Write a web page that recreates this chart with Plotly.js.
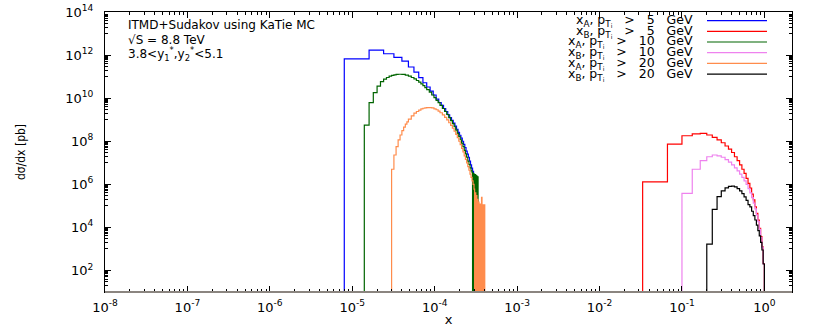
<!DOCTYPE html>
<html>
<head>
<meta charset="utf-8">
<script src="https://cdn.plot.ly/plotly-3.0.1.min.js"></script>
<style>html,body{margin:0;padding:0;background:#fff;}#chart{width:830px;height:327px;}</style>
</head>
<body>
<div id="chart"></div>
<script>
// ---------------- DATA ----------------
// x_A, pT_i > 5 GeV : linear bins of width 8e-6 starting at 8e-6
const xA5_binStart = 8e-6, xA5_binWidth = 8e-6;
const xA5_vals = [6.6e11, 1.7e12, 1.15e12, 7.9e11, 5.2e11, 2.8e11, 1.6e11, 8.9e10, 5.2e10, 3.3e10,
  2.1e10, 1.4e10, 9.1e9, 6.3e9, 4.6e9, 3.3e9, 2.4e9, 1.7e9, 1.26e9, 9.3e8,
  6.9e8, 5.0e8, 3.6e8, 2.6e8, 1.9e8, 1.4e8, 1.0e8, 7.1e7, 5.0e7, 3.5e7,
  2.5e7, 1.8e7, 1.2e7, 7.9e6, 5.6e6, 4.0e6, 2.8e6, 2.0e6, 1.6e6];

// x_A, pT_i > 10 GeV : bin edges and contents
const xA10_edges = [1.4e-5, 1.6e-5, 1.8e-5, 2.0e-5, 2.2e-5, 2.4e-5, 2.6e-5, 2.8e-5, 3.0e-5, 3.2e-5,
  3.4e-5, 3.6e-5, 3.8e-5, 4.0e-5, 4.4e-5, 4.8e-5, 5.2e-5, 5.6e-5, 6.0e-5, 6.4e-5,
  6.8e-5, 7.2e-5, 7.6e-5, 8.0e-5, 8.6e-5, 9.2e-5, 9.8e-5, 1.04e-4, 1.10e-4, 1.16e-4,
  1.24e-4, 1.32e-4, 1.40e-4, 1.48e-4, 1.56e-4, 1.64e-4, 1.72e-4, 1.80e-4, 1.88e-4, 1.96e-4,
  2.04e-4, 2.12e-4, 2.20e-4, 2.28e-4, 2.36e-4, 2.44e-4, 2.52e-4, 2.60e-4, 2.68e-4, 2.76e-4,
  2.84e-4, 2.88e-4, 2.92e-4, 2.96e-4, 3.00e-4, 3.04e-4, 3.08e-4, 3.12e-4, 3.16e-4, 3.20e-4,
  3.24e-4, 3.28e-4, 3.32e-4, 3.36e-4, 3.40e-4];
const xA10_vals = [5.6e8, 6.2e9, 1.8e10, 3.6e10, 5.8e10, 7.6e10, 9.1e10, 1.05e11, 1.15e11, 1.2e11,
  1.26e11, 1.29e11, 1.29e11, 1.26e11, 1.17e11, 1.05e11, 9.1e10, 7.9e10, 6.6e10, 5.5e10,
  4.6e10, 3.8e10, 3.1e10, 2.5e10, 1.9e10, 1.4e10, 1.05e10, 7.9e9, 6.2e9, 4.6e9,
  3.3e9, 2.4e9, 1.74e9, 1.26e9, 9.1e8, 6.6e8, 4.7e8, 3.3e8, 2.3e8, 1.66e8,
  1.17e8, 8.1e7, 5.6e7, 3.8e7, 2.6e7, 1.8e7, 1.2e7, 8.3e6, 5.8e6, 4.2e6,
  3.5e6, 0, 3.2e6, 0, 3.0e6, 0, 2.8e6, 0, 2.6e6, 0, 2.4e6, 0, 2.2e6, 0];

// x_A, pT_i > 20 GeV
const xA20_edges = [3.0e-5, 3.2e-5, 3.4e-5, 3.6e-5, 3.8e-5, 4.0e-5, 4.2e-5, 4.4e-5, 4.6e-5, 4.8e-5,
  5.2e-5, 5.6e-5, 6.0e-5, 6.4e-5, 6.8e-5, 7.2e-5, 7.6e-5, 8.0e-5, 8.6e-5, 9.2e-5,
  9.8e-5, 1.04e-4, 1.10e-4, 1.16e-4, 1.24e-4, 1.32e-4, 1.40e-4, 1.48e-4, 1.56e-4, 1.64e-4,
  1.72e-4, 1.80e-4, 1.88e-4, 1.96e-4, 2.04e-4, 2.12e-4, 2.20e-4, 2.28e-4, 2.36e-4, 2.44e-4,
  2.52e-4, 2.60e-4, 2.68e-4, 2.76e-4, 2.84e-4, 2.92e-4, 3.00e-4, 3.05e-4, 3.10e-4, 3.15e-4,
  3.20e-4, 3.25e-4, 3.30e-4, 3.35e-4, 3.40e-4, 3.45e-4, 3.50e-4, 3.55e-4, 3.60e-4, 3.65e-4,
  3.70e-4, 3.75e-4, 3.80e-4, 3.85e-4, 3.90e-4, 3.95e-4, 4.00e-4, 4.05e-4, 4.10e-4];
const xA20_vals = [5.0e6, 2.3e7, 5.6e7, 1.15e8, 1.95e8, 3.1e8, 4.5e8, 6.2e8, 7.9e8, 1.07e9,
  1.5e9, 2.0e9, 2.4e9, 2.8e9, 3.2e9, 3.4e9, 3.55e9, 3.6e9, 3.6e9, 3.5e9,
  3.2e9, 2.9e9, 2.5e9, 2.1e9, 1.66e9, 1.29e9, 9.8e8, 7.2e8, 5.4e8, 4.0e8,
  2.9e8, 2.1e8, 1.45e8, 1.0e8, 6.9e7, 4.7e7, 3.2e7, 2.1e7, 1.45e7, 9.8e6,
  6.6e6, 4.5e6, 3.0e6, 2.1e6, 1.45e6, 1.0e6, 6e5, 0, 4e5, 0,
  3e5, 0, 2e5, 0, 1.5e5, 0, 1.2e5, 0, 1.2e5, 0,
  2.5e5, 0, 1.1e5, 0, 1.1e5, 0, 1.1e5, 0];

// x_B histograms : linear bins of width 1/30, first filled bin index given
const xB_binWidth = 1 / 30;
const xB5_firstBin = 1;
const xB5_vals = [1.3e6, 7.4e7, 1.8e8, 2.2e8, 2.3e8, 1.95e8, 1.5e8, 1.15e8, 8.5e7, 6.0e7,
  4.3e7, 3.0e7, 1.9e7, 1.26e7, 7.9e6, 5.0e6, 3.2e6, 1.9e6, 1.1e6, 6.6e5,
  3.5e5, 1.9e5, 9.1e4, 4.5e4, 2.2e4, 9.1e3, 3.7e3, 1.26e3, 2.1e2];
const xB10_firstBin = 3;
const xB10_vals = [3.8e5, 5.0e6, 1.26e7, 1.9e7, 2.3e7, 2.1e7, 1.8e7, 1.4e7, 1.07e7, 7.9e6,
  5.8e6, 4.2e6, 3.0e6, 2.1e6, 1.45e6, 9.8e5, 6.3e5, 4.0e5, 2.4e5, 1.35e5,
  7.2e4, 3.7e4, 1.86e4, 8.1e3, 3.4e3, 1.17e3, 2.0e2];
const xB20_firstBin = 6;
const xB20_vals = [1.66e3, 6.9e4, 2.7e5, 5.0e5, 6.9e5, 8.1e5, 8.3e5, 7.6e5, 6.3e5, 5.0e5,
  3.7e5, 2.6e5, 1.8e5, 1.15e5, 8.9e4, 5.6e4, 3.5e4, 2.2e4, 1.26e4, 7.1e3,
  4.0e3, 2.0e3, 8.9e2, 2.0e2];

const NB = "\u00A0";
const sp = n => NB.repeat(n);
const seriesNames = [
  "x<sub>A</sub>," + sp(1) + "p<sub>T<sub>i</sub></sub>" + sp(3) + ">" + sp(3) + "5" + sp(3) + "GeV",
  "x<sub>B</sub>," + sp(1) + "p<sub>T<sub>i</sub></sub>" + sp(3) + ">" + sp(3) + "5" + sp(3) + "GeV",
  "x<sub>A</sub>," + sp(1) + "p<sub>T<sub>i</sub></sub>" + sp(3) + ">" + sp(3) + "10" + sp(3) + "GeV",
  "x<sub>B</sub>," + sp(1) + "p<sub>T<sub>i</sub></sub>" + sp(3) + ">" + sp(3) + "10" + sp(3) + "GeV",
  "x<sub>A</sub>," + sp(1) + "p<sub>T<sub>i</sub></sub>" + sp(3) + ">" + sp(3) + "20" + sp(3) + "GeV",
  "x<sub>B</sub>," + sp(1) + "p<sub>T<sub>i</sub></sub>" + sp(3) + ">" + sp(3) + "20" + sp(3) + "GeV"];
const seriesColors = ["#0000ff", "#ff0000", "#006400", "#ee82ee", "#ff8c4c", "#000000"];

const xTickVals = [1e-8, 1e-7, 1e-6, 1e-5, 1e-4, 1e-3, 1e-2, 1e-1, 1];
const xTickText = ["10<sup>-8</sup>", "10<sup>-7</sup>", "10<sup>-6</sup>", "10<sup>-5</sup>", "10<sup>-4</sup>",
  "10<sup>-3</sup>", "10<sup>-2</sup>", "10<sup>-1</sup>", "10<sup>0</sup>"];
const yTickVals = [1e2, 1e4, 1e6, 1e8, 1e10, 1e12, 1e14];
const yTickText = ["10<sup>2</sup>", "10<sup>4</sup>", "10<sup>6</sup>", "10<sup>8</sup>", "10<sup>10</sup>",
  "10<sup>12</sup>", "10<sup>14</sup>"];

// ---------------- BUILD ----------------
const FLOOR = 1e-3; // empty bins drawn below the visible log range
function uniformEdges(start, width, n) {
  const e = [];
  for (let i = 0; i <= n; i++) e.push(start + i * width);
  return e;
}
function steps(edges, vals) {
  const x = [edges[0]], y = [FLOOR];
  for (let i = 0; i < vals.length; i++) {
    x.push(edges[i]);
    y.push(vals[i] > 0 ? vals[i] : FLOOR);
  }
  const last = vals[vals.length - 1] > 0 ? vals[vals.length - 1] : FLOOR;
  x.push(edges[vals.length]); y.push(last);
  x.push(edges[vals.length]); y.push(FLOOR);
  return {x, y};
}
const hists = [
  steps(uniformEdges(xA5_binStart, xA5_binWidth, xA5_vals.length), xA5_vals),
  steps(uniformEdges(xB5_firstBin * xB_binWidth, xB_binWidth, xB5_vals.length), xB5_vals),
  steps(xA10_edges, xA10_vals),
  steps(uniformEdges(xB10_firstBin * xB_binWidth, xB_binWidth, xB10_vals.length), xB10_vals),
  steps(xA20_edges, xA20_vals),
  steps(uniformEdges(xB20_firstBin * xB_binWidth, xB_binWidth, xB20_vals.length), xB20_vals)
];
const traces = hists.map((h, i) => ({
  type: "scatter", mode: "lines", x: h.x, y: h.y, name: seriesNames[i],
  line: {shape: "hv", color: seriesColors[i], width: 1.2}, showlegend: false, hoverinfo: "skip"
}));

const xMinor = [];
for (let n = -8; n <= 0; n++) for (let k = 2; k <= 9; k++) { const v = k * Math.pow(10, n); if (v < 2) xMinor.push(v); }
const yMinor = [];
for (let n = 1; n <= 13; n += 2) for (let k = 1; k <= 9; k++) yMinor.push(k * Math.pow(10, n));

const FONT = "DejaVu Sans, Verdana, sans-serif";
const L = 105, R = 792, T = 12, B = 292, W = 830, H = 327;
const px2paperX = p => (p - L) / (R - L);
const px2paperY = p => (B - p) / (B - T);

const annotations = [
  {text: "ITMD+Sudakov using KaTie MC", x: px2paperX(126), y: px2paperY(25)},
  {text: "\u221AS = 8.8 TeV", x: px2paperX(126), y: px2paperY(40.5)},
  {text: "3.8&lt;y<sub>1</sub><sup>*</sup>,y<sub>2</sub><sup>*</sup>&lt;5.1", x: px2paperX(126), y: px2paperY(54)}
].map(a => Object.assign({xref: "paper", yref: "paper", xanchor: "left", yanchor: "middle", showarrow: false,
  font: {family: FONT, size: 12, color: "#000"}}, a));

const legendY = [20.7, 31.3, 42, 52.7, 63.4, 74.1];
const shapes = [];
seriesNames.forEach((nm, i) => {
  annotations.push({text: nm, xref: "paper", yref: "paper", x: px2paperX(695), y: px2paperY(legendY[i]),
    xanchor: "right", yanchor: "middle", showarrow: false, font: {family: FONT, size: 12.5, color: "#000"}});
  shapes.push({type: "line", xref: "paper", yref: "paper", x0: px2paperX(707), x1: px2paperX(767),
    y0: px2paperY(legendY[i]), y1: px2paperY(legendY[i]), line: {color: seriesColors[i], width: 1.2}});
});
// grey baseline along the bottom of the frame
shapes.push({type: "line", xref: "paper", yref: "paper", x0: 0, x1: 1, y0: 0, y1: 0, layer: "above",
  line: {color: "#8b8580", width: 2}});

const layout = {
  width: W, height: H,
  margin: {l: L, r: W - R, t: T, b: H - B, pad: 0},
  paper_bgcolor: "#fff", plot_bgcolor: "#fff",
  font: {family: FONT, size: 12, color: "#000"},
  xaxis: {type: "log", range: [-8, 0.335], showgrid: false, zeroline: false,
    showline: true, linecolor: "#000", linewidth: 1, mirror: "allticks",
    ticks: "inside", ticklen: 6, tickcolor: "#000", tickwidth: 1,
    tickmode: "array", tickvals: xTickVals, ticktext: xTickText,
    tickfont: {family: FONT, size: 13, color: "#000"}, ticklabelstandoff: 3,
    minor: {tickmode: "array", tickvals: xMinor, ticks: "inside", ticklen: 3, tickcolor: "#000", showgrid: false},
    title: {text: "x", font: {family: FONT, size: 13, color: "#000"}, standoff: 2}},
  yaxis: {type: "log", range: [1, 14], showgrid: false, zeroline: false,
    showline: true, linecolor: "#000", linewidth: 1, mirror: "allticks",
    ticks: "inside", ticklen: 6, tickcolor: "#000", tickwidth: 1,
    tickmode: "array", tickvals: yTickVals, ticktext: yTickText,
    tickfont: {family: FONT, size: 13, color: "#000"}, ticklabelstandoff: 8,
    minor: {tickmode: "array", tickvals: yMinor, ticks: "inside", ticklen: 3, tickcolor: "#000", showgrid: false},
    title: {text: "d\u03C3/dx [pb]", font: {family: "DejaVu Sans Condensed, Liberation Sans Narrow, " + FONT, size: 12, color: "#000"}, standoff: 37}},
  annotations: annotations, shapes: shapes, showlegend: false
};
Plotly.newPlot("chart", traces, layout, {displayModeBar: false, staticPlot: true});
</script>
</body>
</html>
